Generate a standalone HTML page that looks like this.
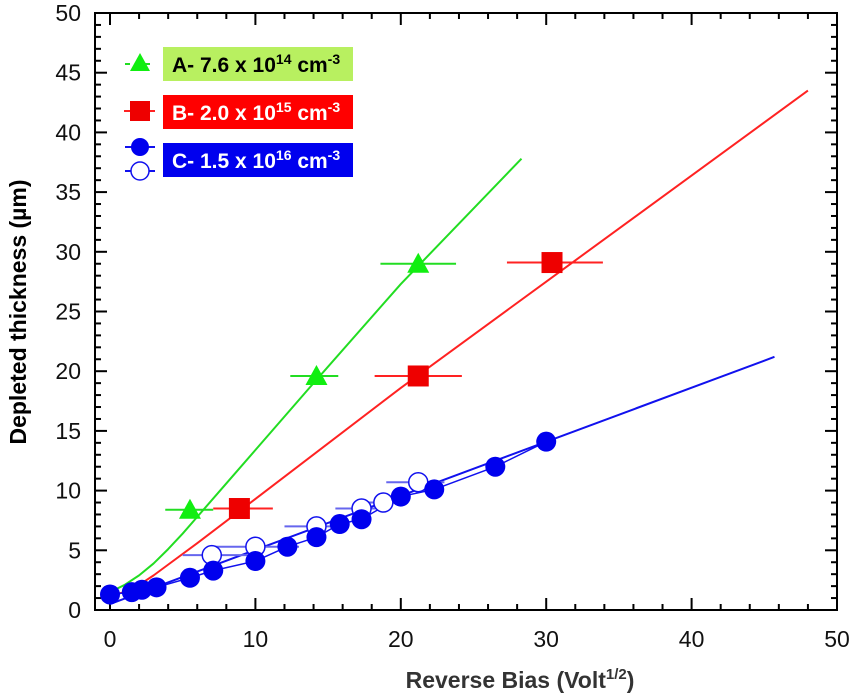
<!DOCTYPE html>
<html><head><meta charset="utf-8"><style>
body{margin:0;background:#fff;}
svg{display:block;font-family:"Liberation Sans",Arial,sans-serif;}
</style></head><body>
<svg id="chart" width="856" height="695" viewBox="0 0 856 695"></svg>
<script>
const xTicks=[0,10,20,30,40,50];
const yTicks=[0,5,10,15,20,25,30,35,40,45,50];
const fitA=[[0,1.5],[1,2.1],[2,2.9],[3,3.9],[4,5.1],[5,6.4],[6,7.8],[8,10.6],[10,13.4],[14,19.0],[20,27.3],[28.3,37.8]];
const fitB=[[0,1.2],[1,1.5],[2,2.1],[3,2.9],[4,3.8],[6,5.6],[10,9.3],[20,18.6],[30,27.5],[48,43.5]];
const fitC=[[0,0.5],[45.7,21.2]];
const ptsA=[[5.5,8.4],[14.2,19.6],[21.2,29.0]];
const errA=[[3.8,7.1],[12.4,15.7],[18.6,23.8]];
const ptsB=[[8.9,8.5],[21.2,19.6],[30.4,29.1]];
const errB=[[7.1,11.2],[18.2,24.2],[27.3,33.9]];
const ptsCfill=[[0,1.3],[1.5,1.5],[2.2,1.7],[3.2,1.9],[5.5,2.7],[7.1,3.3],[10,4.1],[12.2,5.3],[14.2,6.1],[15.8,7.2],[17.3,7.6],[20,9.5],[22.3,10.1],[26.5,12.0],[30,14.1]];
const ptsCopen=[[7,4.6],[10,5.3],[14.2,7.0],[17.3,8.5],[18.8,9.0],[21.2,10.7]];
const errCopen=[[5,10],[7,13],[12,15.5],[15.5,18.5],[17,20.5],[19,23]];

const X=v=>110+v*14.54, Y=v=>610-v*11.94;
const svg=document.getElementById('chart');
const NS='http://www.w3.org/2000/svg';
function mk(t,a,p){const e=document.createElementNS(NS,t);for(const k in a)e.setAttribute(k,a[k]);(p||svg).appendChild(e);return e;}
let fr=mk('rect',{x:95,y:13,width:742,height:597,fill:'none',stroke:'#000','stroke-width':2});

for(let v=0;v<=50;v+=2){const L=v%10==0?12:6;const x=X(v);
 mk('line',{x1:x,x2:x,y1:610,y2:610-L,stroke:'#000','stroke-width':2});
 mk('line',{x1:x,x2:x,y1:13,y2:13+L,stroke:'#000','stroke-width':2});}
for(let v=0;v<=50;v+=1){const L=v%5==0?12:6;const y=Y(v);
 mk('line',{x1:95,x2:95+L,y1:y,y2:y,stroke:'#000','stroke-width':2});
 mk('line',{x1:837,x2:837-L,y1:y,y2:y,stroke:'#000','stroke-width':2});}
xTicks.forEach(v=>{const t=mk('text',{x:X(v),y:647,'text-anchor':'middle','font-size':23,fill:'#111'});t.textContent=v;
 });
yTicks.forEach(v=>{const t=mk('text',{x:81,y:Y(v)+8,'text-anchor':'end','font-size':23,fill:'#111'});t.textContent=v;
 });
let xt=mk('text',{x:520,y:688,'text-anchor':'middle','font-size':23,'font-weight':'bold',fill:'#333'});
xt.innerHTML='Reverse Bias (Volt<tspan font-size="15" dy="-9">1/2</tspan><tspan dy="9">)</tspan>';

let yt=mk('text',{x:0,y:0,'text-anchor':'middle','font-size':23,'font-weight':'bold',fill:'#000',transform:'translate(26,312) rotate(-90)'});
yt.textContent='Depleted thickness (µm)';

function line(pts,c,w,name){const e=mk('polyline',{points:pts.map(p=>X(p[0])+','+Y(p[1])).join(' '),fill:'none',stroke:c,'stroke-width':w,'stroke-linejoin':'round'});
 }
line(fitA,'#22dd22',2,'fit-line-a');line(fitB,'#ff2222',2,'fit-line-b');line(fitC,'#1111ee',2,'fit-line-c');
line(ptsCfill,'#1111ee',1.5,'connect-line-c');
function err(pts,e,c,name){pts.forEach((p,i)=>{const l=mk('line',{x1:X(e[i][0]),x2:X(e[i][1]),y1:Y(p[1]),y2:Y(p[1]),stroke:c,'stroke-width':2});
 });}
err(ptsA,errA,'#22dd22','error-bar-a');err(ptsB,errB,'#ff2222','error-bar-b');err(ptsCopen,errCopen,'#6666ee','error-bar-c');
ptsA.forEach(p=>{const x=X(p[0]),y=Y(p[1]);const e=mk('polygon',{points:`${x},${y-11} ${x-11},${y+9} ${x+11},${y+9}`,fill:'#11ee11'});
 });
ptsB.forEach(p=>{const e=mk('rect',{x:X(p[0])-10.5,y:Y(p[1])-10.5,width:21,height:21,fill:'#ee0000'});
 });
ptsCopen.forEach(p=>{const e=mk('circle',{cx:X(p[0]),cy:Y(p[1]),r:9.5,fill:'#fff',stroke:'#1111ee','stroke-width':1.5});
 });
ptsCfill.forEach(p=>{const e=mk('circle',{cx:X(p[0]),cy:Y(p[1]),r:10,fill:'#0000ee'});
 });
function leg(y,bg,fg,label,sup1,name){const g=mk('g',{});
 mk('rect',{x:163,y:y-17,width:190,height:34,fill:bg},g);
 const t=mk('text',{x:172,y:y+8,'font-size':21,'font-weight':'bold',fill:fg},g);
 t.innerHTML=label+'<tspan font-size="14" dy="-8">'+sup1+'</tspan><tspan dy="8"> cm</tspan><tspan font-size="14" dy="-8">-3</tspan>';return g;}
let g1=leg(64,'#b8f060','#000','A- 7.6 x 10','14','legend-entry-a');
mk('line',{x1:125,x2:155,y1:64,y2:64,stroke:'#22dd22','stroke-width':2,'stroke-dasharray':'5,5'},g1);
mk('polygon',{points:'140,53 130,71 150,71',fill:'#11ee11'},g1);
let g2=leg(112,'#ff0000','#fff','B- 2.0 x 10','15','legend-entry-b');
mk('line',{x1:124,x2:155,y1:111,y2:111,stroke:'#ff2222','stroke-width':2},g2);
mk('rect',{x:130,y:101,width:20,height:20,fill:'#ee0000'},g2);
let g3=leg(160,'#0000ee','#fff','C- 1.5 x 10','16','legend-entry-c');
mk('line',{x1:125,x2:155,y1:147,y2:147,stroke:'#1111ee','stroke-width':2},g3);
mk('line',{x1:125,x2:155,y1:171,y2:171,stroke:'#1111ee','stroke-width':2},g3);
mk('circle',{cx:140,cy:147,r:9,fill:'#0000ee'},g3);
mk('circle',{cx:140,cy:171,r:9,fill:'#fff',stroke:'#1111ee','stroke-width':1.5},g3);
</script>
</body></html>
